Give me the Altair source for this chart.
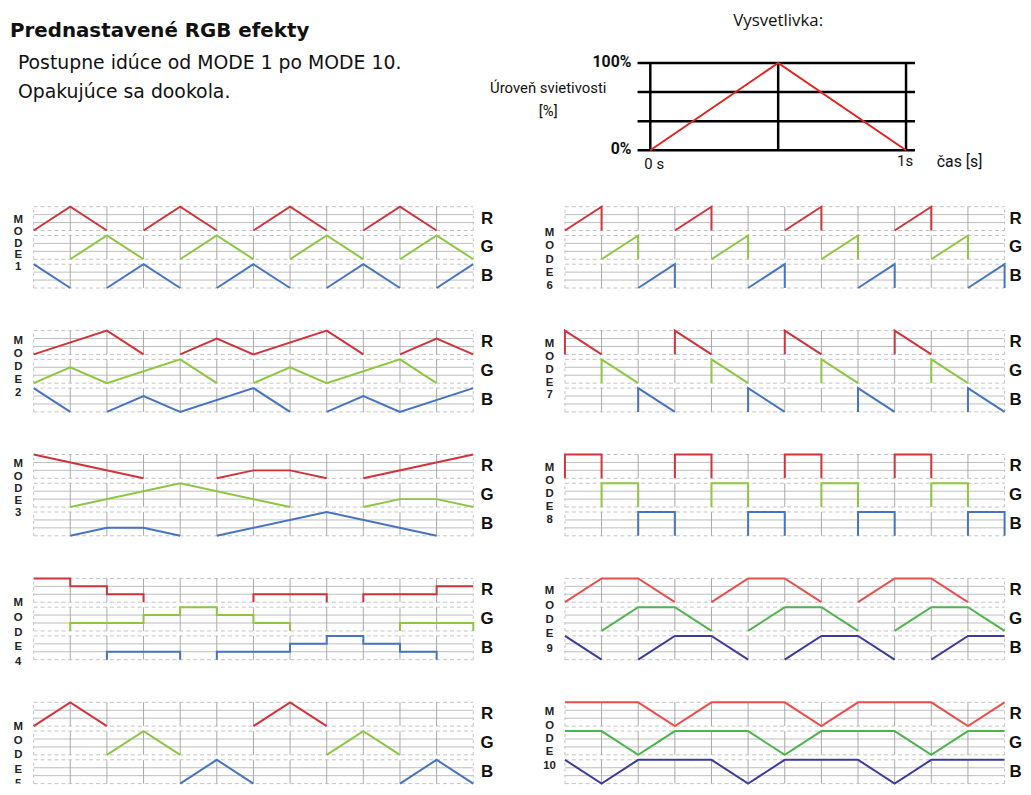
import altair as alt
import pandas as pd

# ---------------- texts ----------------
TITLE = "Prednastavené RGB efekty"
SUBTITLE_LINES = ["Postupne idúce od MODE 1 po MODE 10.", "Opakujúce sa dookola."]
LEGEND_TITLE = "Vysvetlivka:"
LEGEND_YLABEL = ["Úroveň svietivosti", "[%]"]
LEGEND_YTICKS = ["100%", "0%"]
LEGEND_XTICKS = ["0 s", "1s"]
LEGEND_XLABEL = "čas [s]"
CHANNELS = ["R", "G", "B"]

# ---------------- legend (explanation) data ----------------
LEGEND_TIME = [0, 0.5, 1]
LEGEND_LEVEL = [0, 100, 0]
LEGEND_GRID_LEVELS = [0, 33.3, 66.7, 100]
LEGEND_GRID_TIMES = [0, 0.5, 1]

# ---------------- mode data: segments of (time step, level 0..3) ----------------
MODE1_R = [[(0, 0), (1, 3), (2, 0)], [(3, 0), (4, 3), (5, 0)], [(6, 0), (7, 3), (8, 0)], [(9, 0), (10, 3), (11, 0)]]
MODE1_G = [[(1, 0), (2, 3), (3, 0)], [(4, 0), (5, 3), (6, 0)], [(7, 0), (8, 3), (9, 0)], [(10, 0), (11, 3), (12, 0)]]
MODE1_B = [[(0, 3), (1, 0)], [(2, 0), (3, 3), (4, 0)], [(5, 0), (6, 3), (7, 0)], [(8, 0), (9, 3), (10, 0)], [(11, 0), (12, 3)]]

MODE2_R = [[(0, 0), (2, 3), (3, 0)], [(4, 0), (5, 2), (6, 0), (8, 3), (9, 0)], [(10, 0), (11, 2), (12, 0)]]
MODE2_G = [[(0, 0), (1, 2), (2, 0), (4, 3), (5, 0)], [(6, 0), (7, 2), (8, 0), (10, 3), (11, 0)]]
MODE2_B = [[(0, 3), (1, 0)], [(2, 0), (3, 2), (4, 0), (6, 3), (7, 0)], [(8, 0), (9, 2), (10, 0), (12, 3)]]

MODE3_R = [[(0, 3), (3, 0)], [(5, 0), (6, 1), (7, 1), (8, 0)], [(9, 0), (12, 3)]]
MODE3_G = [[(1, 0), (4, 3), (7, 0)], [(9, 0), (10, 1), (11, 1), (12, 0)]]
MODE3_B = [[(1, 0), (2, 1), (3, 1), (4, 0)], [(5, 0), (8, 3), (11, 0)]]

MODE4_R = [[(0, 3), (1, 3), (1, 2), (2, 2), (2, 1), (3, 1), (3, 0)],
           [(6, 0), (6, 1), (8, 1), (8, 0)],
           [(9, 0), (9, 1), (11, 1), (11, 2), (12, 2)]]
MODE4_G = [[(1, 0), (1, 1), (3, 1), (3, 2), (4, 2), (4, 3), (5, 3), (5, 2), (6, 2), (6, 1), (7, 1), (7, 0)],
           [(10, 0), (10, 1), (12, 1), (12, 0)]]
MODE4_B = [[(2, 0), (2, 1), (4, 1), (4, 0)],
           [(5, 0), (5, 1), (7, 1), (7, 2), (8, 2), (8, 3), (9, 3), (9, 2), (10, 2), (10, 1), (11, 1), (11, 0)]]

MODE5_R = [[(0, 0), (1, 3), (2, 0)], [(6, 0), (7, 3), (8, 0)]]
MODE5_G = [[(2, 0), (3, 3), (4, 0)], [(8, 0), (9, 3), (10, 0)]]
MODE5_B = [[(4, 0), (5, 3), (6, 0)], [(10, 0), (11, 3), (12, 0)]]

MODE6_R = [[(0, 0), (1, 3), (1, 0)], [(3, 0), (4, 3), (4, 0)], [(6, 0), (7, 3), (7, 0)], [(9, 0), (10, 3), (10, 0)]]
MODE6_G = [[(1, 0), (2, 3), (2, 0)], [(4, 0), (5, 3), (5, 0)], [(7, 0), (8, 3), (8, 0)], [(10, 0), (11, 3), (11, 0)]]
MODE6_B = [[(2, 0), (3, 3), (3, 0)], [(5, 0), (6, 3), (6, 0)], [(8, 0), (9, 3), (9, 0)], [(11, 0), (12, 3), (12, 0)]]

MODE7_R = [[(0, 0), (0, 3), (1, 0)], [(3, 0), (3, 3), (4, 0)], [(6, 0), (6, 3), (7, 0)], [(9, 0), (9, 3), (10, 0)]]
MODE7_G = [[(1, 0), (1, 3), (2, 0)], [(4, 0), (4, 3), (5, 0)], [(7, 0), (7, 3), (8, 0)], [(10, 0), (10, 3), (11, 0)]]
MODE7_B = [[(2, 0), (2, 3), (3, 0)], [(5, 0), (5, 3), (6, 0)], [(8, 0), (8, 3), (9, 0)], [(11, 0), (11, 3), (12, 0)]]

MODE8_R = [[(0, 0), (0, 3), (1, 3), (1, 0)], [(3, 0), (3, 3), (4, 3), (4, 0)], [(6, 0), (6, 3), (7, 3), (7, 0)], [(9, 0), (9, 3), (10, 3), (10, 0)]]
MODE8_G = [[(1, 0), (1, 3), (2, 3), (2, 0)], [(4, 0), (4, 3), (5, 3), (5, 0)], [(7, 0), (7, 3), (8, 3), (8, 0)], [(10, 0), (10, 3), (11, 3), (11, 0)]]
MODE8_B = [[(2, 0), (2, 3), (3, 3), (3, 0)], [(5, 0), (5, 3), (6, 3), (6, 0)], [(8, 0), (8, 3), (9, 3), (9, 0)], [(11, 0), (11, 3), (12, 3), (12, 0)]]

MODE9_R = [[(0, 0), (1, 3), (2, 3), (3, 0)], [(4, 0), (5, 3), (6, 3), (7, 0)], [(8, 0), (9, 3), (10, 3), (11, 0)]]
MODE9_G = [[(1, 0), (2, 3), (3, 3), (4, 0)], [(5, 0), (6, 3), (7, 3), (8, 0)], [(9, 0), (10, 3), (11, 3), (12, 0)]]
MODE9_B = [[(0, 3), (1, 0)], [(2, 0), (3, 3), (4, 3), (5, 0)], [(6, 0), (7, 3), (8, 3), (9, 0)], [(10, 0), (11, 3), (12, 3)]]

MODE10_R = [[(0, 3), (2, 3), (3, 0), (4, 3), (6, 3), (7, 0), (8, 3), (10, 3), (11, 0), (12, 3)]]
MODE10_G = [[(0, 3), (1, 3), (2, 0), (3, 3), (5, 3), (6, 0), (7, 3), (9, 3), (10, 0), (11, 3), (12, 3)]]
MODE10_B = [[(0, 3), (1, 0), (2, 3), (4, 3), (5, 0), (6, 3), (8, 3), (9, 0), (10, 3), (12, 3)]]

MODES = [
    (1, {"R": MODE1_R, "G": MODE1_G, "B": MODE1_B}),
    (2, {"R": MODE2_R, "G": MODE2_G, "B": MODE2_B}),
    (3, {"R": MODE3_R, "G": MODE3_G, "B": MODE3_B}),
    (4, {"R": MODE4_R, "G": MODE4_G, "B": MODE4_B}),
    (5, {"R": MODE5_R, "G": MODE5_G, "B": MODE5_B}),
    (6, {"R": MODE6_R, "G": MODE6_G, "B": MODE6_B}),
    (7, {"R": MODE7_R, "G": MODE7_G, "B": MODE7_B}),
    (8, {"R": MODE8_R, "G": MODE8_G, "B": MODE8_B}),
    (9, {"R": MODE9_R, "G": MODE9_G, "B": MODE9_B}),
    (10, {"R": MODE10_R, "G": MODE10_G, "B": MODE10_B}),
]

# ---------------- styles ----------------
PALETTE_STD = {"R": "#d2323a", "G": "#8dc641", "B": "#4673c2"}
PALETTE_ALT = {"R": "#e84f4c", "G": "#4db44f", "B": "#3c3c9c"}
BAND_STEP = 3.625
BAND_INDEX = {"R": 2, "G": 1, "B": 0}
# vertical placement of the stacked "M O D E n" letters (y units, step)
LETTER_TOP = [8.6, 8.9, 9.0, 7.1, 7.1, 6.9, 8.5, 8.6, 8.6, 9.0]
LETTER_STEP = [1.5, 1.62, 1.53, 1.84, 1.78, 1.66, 1.6, 1.65, 1.8, 1.69]

GRID_SOLID = "#bdbdbd"
GRID_DASH = "#c2c2c2"
GRID_VERT = "#a8a8a8"

PX_PER_STEP = 36.96
LEFT_XMAX = 12.45
RIGHT_XMAX = 12.3
LEFT_W = round((LEFT_XMAX + 0.7) * PX_PER_STEP, 1)
RIGHT_W = round((RIGHT_XMAX + 0.7) * PX_PER_STEP, 1)
HEADER_H = 154
PANEL_H = 88
COL_GAP = 50


def one_row():
    return pd.DataFrame({"k": [0]})


def label(text, x, y, size, weight="normal", align="left", font="Roboto", color="#111111"):
    return alt.Chart(one_row()).mark_text(
        text=text, align=align, baseline="middle", fontSize=size,
        fontWeight=weight, font=font, color=color
    ).encode(x=alt.value(x), y=alt.value(y))


# ---------------- header: left (title) ----------------
header_left = alt.layer(
    label(TITLE, 2, 20, 20, "bold", font="DejaVu Sans"),
    label(SUBTITLE_LINES[0], 10, 52, 19, font="DejaVu Sans"),
    label(SUBTITLE_LINES[1], 10, 81, 19, font="DejaVu Sans"),
).properties(width=LEFT_W, height=HEADER_H)

# ---------------- header: right (explanation chart) ----------------
# 258 px per second; 100 % to 0 % spans 88 px
HX = alt.Scale(domain=[-0.43411, -0.43411 + RIGHT_W / 258.0], nice=False, zero=False)
HY = alt.Scale(domain=[-15.91, 159.09], nice=False, zero=False)

hgrid = pd.DataFrame({"lvl": LEGEND_GRID_LEVELS, "x0": -0.05, "x1": 1.035})
vgrid = pd.DataFrame({"t": LEGEND_GRID_TIMES, "y0": 0.0, "y1": 100.0})
legend_line = pd.DataFrame({"t": LEGEND_TIME, "lvl": LEGEND_LEVEL})

header_right = alt.layer(
    alt.Chart(hgrid).mark_rule(color="black", strokeWidth=2.5).encode(
        x=alt.X("x0:Q", scale=HX, axis=None), x2="x1:Q",
        y=alt.Y("lvl:Q", scale=HY, axis=None)),
    alt.Chart(vgrid).mark_rule(color="black", strokeWidth=2.5).encode(
        x=alt.X("t:Q", scale=HX, axis=None),
        y=alt.Y("y0:Q", scale=HY, axis=None), y2="y1:Q"),
    alt.Chart(legend_line).mark_line(color="#e3231f", strokeWidth=2).encode(
        x=alt.X("t:Q", scale=HX, axis=None),
        y=alt.Y("lvl:Q", scale=HY, axis=None)),
    label(LEGEND_TITLE, 241, 10, 17, align="center", font="Open Sans"),
    label(LEGEND_YLABEL[0], 9, 77, 15, align="center"),
    label(LEGEND_YLABEL[1], 9, 100, 15, align="center"),
    label(LEGEND_YTICKS[0], 93, 51, 16, "bold", align="right"),
    label(LEGEND_YTICKS[1], 93, 139, 16, "bold", align="right"),
    label(LEGEND_XTICKS[0], 106, 154, 15),
    label(LEGEND_XTICKS[1], 361, 151, 15),
    label(LEGEND_XLABEL, 401, 152, 16),
).properties(width=RIGHT_W, height=HEADER_H)


# ---------------- mode panels ----------------
def mode_frame(channels, palette):
    rows = []
    for ch in CHANNELS:
        for si, seg in enumerate(channels[ch]):
            for pi, (t, lvl) in enumerate(seg):
                rows.append({"t": t, "y": BAND_INDEX[ch] * BAND_STEP + lvl,
                             "seg": f"{ch}{si}", "order": pi, "color": palette[ch]})
    return pd.DataFrame(rows)


def panel(i):
    num, channels = MODES[i]
    right = i >= 5
    last_row = i in (4, 9)
    xmax = RIGHT_XMAX if right else LEFT_XMAX
    xs = alt.Scale(domain=[-0.7, xmax], nice=False, zero=False)
    ys = alt.Scale(domain=[0, 11], nice=False, zero=False)
    palette = PALETTE_ALT if num in (9, 10) else PALETTE_STD

    hrows, vrows = [], []
    for b in range(3):
        base = b * BAND_STEP
        for lvl in range(4):
            hrows.append({"y": base + lvl, "x0": 0, "x1": 12, "dashed": lvl in (0, 3)})
        for t in range(13):
            vrows.append({"t": t, "y0": base, "y1": base + 3, "dashed": t in (0, 12)})
    hdf = pd.DataFrame(hrows)
    vdf = pd.DataFrame(vrows)

    def hrule(df, color, dash=None):
        kw = {"strokeDash": dash} if dash else {}
        return alt.Chart(df).mark_rule(color=color, strokeWidth=1, **kw).encode(
            x=alt.X("x0:Q", scale=xs, axis=None), x2="x1:Q",
            y=alt.Y("y:Q", scale=ys, axis=None))

    def vrule(df, color, dash=None):
        kw = {"strokeDash": dash} if dash else {}
        return alt.Chart(df).mark_rule(color=color, strokeWidth=1, **kw).encode(
            x=alt.X("t:Q", scale=xs, axis=None),
            y=alt.Y("y0:Q", scale=ys, axis=None), y2="y1:Q")

    lines = alt.Chart(mode_frame(channels, palette)).mark_line(strokeWidth=2).encode(
        x=alt.X("t:Q", scale=xs, axis=None),
        y=alt.Y("y:Q", scale=ys, axis=None),
        detail="seg:N", order="order:Q",
        color=alt.Color("color:N", scale=None))

    letters = list("MODE") + [str(num)]
    ldf = pd.DataFrame({
        "txt": letters,
        "t": [-0.42] * 5,
        "y": [LETTER_TOP[i] - k * LETTER_STEP[i] for k in range(5)],
    })
    mode_text = alt.Chart(ldf).mark_text(
        font="Liberation Sans", fontWeight="bold", fontSize=11.5, color="#222222",
        baseline="middle", align="center", clip=last_row
    ).encode(x=alt.X("t:Q", scale=xs, axis=None), y=alt.Y("y:Q", scale=ys, axis=None), text="txt:N")

    cdf = pd.DataFrame({
        "txt": CHANNELS,
        "t": [12.3 if right else 12.38] * 3,
        "y": [BAND_INDEX[c] * BAND_STEP + 1.5 for c in CHANNELS],
    })
    ch_text = alt.Chart(cdf).mark_text(
        font="Liberation Sans", fontWeight="bold", fontSize=17, color="#111111",
        baseline="middle", align="center"
    ).encode(x=alt.X("t:Q", scale=xs, axis=None), y=alt.Y("y:Q", scale=ys, axis=None), text="txt:N")

    return alt.layer(
        hrule(hdf[~hdf.dashed], GRID_SOLID),
        hrule(hdf[hdf.dashed], GRID_DASH, [4, 3]),
        vrule(vdf[~vdf.dashed], GRID_VERT),
        vrule(vdf[vdf.dashed], GRID_DASH, [3, 3]),
        lines, mode_text, ch_text,
    ).properties(width=RIGHT_W if right else LEFT_W, height=PANEL_H)


cells = [header_left, header_right]
for k in range(5):
    cells += [panel(k), panel(k + 5)]

chart = alt.concat(
    *cells, columns=2, spacing={"row": 37, "column": COL_GAP},
    bounds="flush", align="each", padding=0
).configure_view(stroke=None)

chart.save("out.html", embed_options={"renderer": "svg", "actions": False})
